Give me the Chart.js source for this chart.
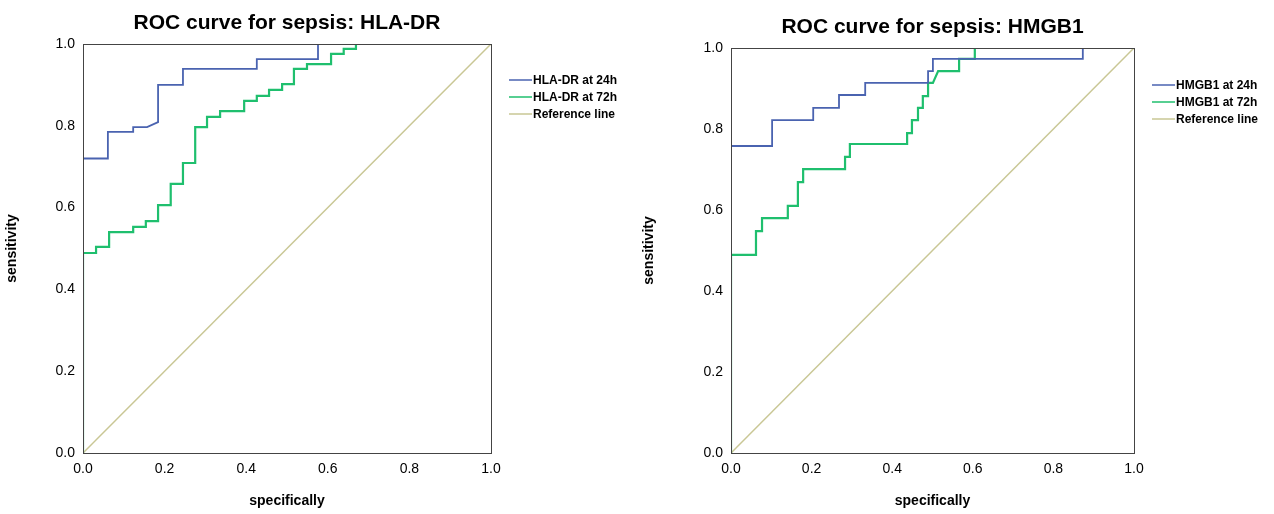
<!DOCTYPE html>
<html>
<head>
<meta charset="utf-8">
<script src="https://cdn.jsdelivr.net/npm/chart.js@4"></script>
<style>
  body{margin:0;background:#fff;width:1274px;height:514px;overflow:hidden;}
  .wrap{position:absolute;top:0;width:637px;height:514px;}
</style>
</head>
<body>
<div class="wrap" style="left:0"><canvas id="c1" width="637" height="514"></canvas></div>
<div class="wrap" style="left:637px"><canvas id="c2" width="637" height="514"></canvas></div>
<script>
// ROC points: [1 - specificity, sensitivity]
var hla24=[[0,0],[0,0.72],[0.061,0.72],[0.061,0.785],[0.123,0.785],[0.123,0.797],[0.157,0.797],[0.184,0.809],[0.184,0.90],[0.245,0.90],[0.245,0.939],[0.426,0.939],[0.426,0.963],[0.576,0.963],[0.576,1],[1,1]];
var hla72=[[0,0],[0,0.489],[0.032,0.489],[0.032,0.504],[0.064,0.504],[0.064,0.54],[0.123,0.54],[0.123,0.553],[0.154,0.553],[0.154,0.567],[0.184,0.567],[0.184,0.606],[0.215,0.606],[0.215,0.658],[0.245,0.658],[0.245,0.709],[0.275,0.709],[0.275,0.797],[0.304,0.797],[0.304,0.822],[0.336,0.822],[0.336,0.836],[0.395,0.836],[0.395,0.861],[0.426,0.861],[0.426,0.873],[0.456,0.873],[0.456,0.888],[0.488,0.888],[0.488,0.902],[0.517,0.902],[0.517,0.939],[0.549,0.939],[0.549,0.951],[0.608,0.951],[0.608,0.976],[0.639,0.976],[0.639,0.988],[0.669,0.988],[0.669,1],[1,1]];
var hmgb24=[[0,0],[0,0.758],[0.102,0.758],[0.102,0.822],[0.204,0.822],[0.204,0.852],[0.268,0.852],[0.268,0.884],[0.333,0.884],[0.333,0.914],[0.489,0.914],[0.489,0.943],[0.501,0.943],[0.501,0.973],[0.873,0.973],[0.873,1],[1,1]];
var hmgb72=[[0,0],[0,0.489],[0.062,0.489],[0.062,0.548],[0.077,0.548],[0.077,0.58],[0.141,0.58],[0.141,0.61],[0.166,0.61],[0.166,0.669],[0.179,0.669],[0.179,0.701],[0.283,0.701],[0.283,0.731],[0.295,0.731],[0.295,0.763],[0.437,0.763],[0.437,0.79],[0.449,0.79],[0.449,0.822],[0.464,0.822],[0.464,0.852],[0.476,0.852],[0.476,0.881],[0.489,0.881],[0.489,0.914],[0.501,0.914],[0.514,0.943],[0.566,0.943],[0.566,0.973],[0.605,0.973],[0.605,1],[1,1]];
var refLine=[[0,0],[1,1]];
var ticks=[0,0.2,0.4,0.6,0.8,1.0];

var BLUE="#4a63b0", GREEN="#1fbf6e", REF="#c9c795";

function pts(a){ return a.map(function(p){return {x:p[0],y:p[1]};}); }

// draws title, frame and legend
var decor={
  id:"decor",
  afterDraw:function(chart){
    var o=chart.options.plugins.decor, ctx=chart.ctx, a=chart.chartArea;
    ctx.save();
    ctx.strokeStyle="#444";ctx.lineWidth=1;
    ctx.strokeRect(a.left+0.5,a.top+0.5,a.right-a.left,a.bottom-a.top);
    ctx.fillStyle="#000";ctx.font="bold 21px Arial, 'Liberation Sans'";
    ctx.textAlign="center";ctx.textBaseline="middle";
    ctx.fillText(o.title,(a.left+a.right)/2,a.top-21);
    ctx.font="bold 12px Arial, 'Liberation Sans'";ctx.textAlign="left";
    var ds=chart.data.datasets;
    for(var i=0;i<ds.length;i++){
      var y=o.legY+i*17;
      ctx.strokeStyle=ds[i].borderColor;ctx.lineWidth=1.5;
      ctx.beginPath();ctx.moveTo(a.right+18,y);ctx.lineTo(a.right+41,y);ctx.stroke();
      ctx.fillText(ds[i].label,a.right+42,y+1);
    }
    ctx.restore();
  }
};

function makeChart(id,title,s24,s72,n24,n72,padL,padR,padT,legY){
  new Chart(document.getElementById(id),{
    type:"scatter",
    data:{datasets:[
      {label:n24,data:pts(s24),showLine:true,borderColor:BLUE,borderWidth:1.8,pointRadius:0,fill:false},
      {label:n72,data:pts(s72),showLine:true,borderColor:GREEN,borderWidth:2.2,pointRadius:0,fill:false},
      {label:"Reference line",data:pts(refLine),showLine:true,borderColor:REF,borderWidth:1.5,pointRadius:0,fill:false}
    ]},
    options:{
      responsive:false,animation:false,
      layout:{padding:{left:0,right:padR,top:padT,bottom:0}},
      plugins:{legend:{display:false},tooltip:{enabled:false},decor:{title:title,legY:legY}},
      scales:{
        x:{type:"linear",min:0,max:1,grid:{display:false,drawTicks:true,tickLength:5,tickColor:"#444"},border:{color:"#444"},
          afterBuildTicks:function(s){s.ticks=ticks.map(function(v){return {value:v};});},
          afterFit:function(s){s.height=61;},
          ticks:{color:"#000",font:{size:14,family:"Arial"},callback:function(v){return v.toFixed(1);}},
          title:{display:true,text:"specifically",color:"#000",font:{size:14,weight:"bold",family:"Arial"},padding:{top:8}}},
        y:{type:"linear",min:0,max:1,grid:{display:false,tickLength:5,tickColor:"#444"},border:{color:"#444"},
          afterBuildTicks:function(s){s.ticks=ticks.map(function(v){return {value:v};});},
          afterFit:function(s){s.width=padL;},
          ticks:{color:"#000",font:{size:14,family:"Arial"},callback:function(v){return v.toFixed(1);}},
          title:{display:true,text:"sensitivity",color:"#000",font:{size:14,weight:"bold",family:"Arial"},padding:{bottom:8}}}
      }
    },
    plugins:[decor]
  });
}

makeChart("c1","ROC curve for sepsis: HLA-DR",hla24,hla72,"HLA-DR at 24h","HLA-DR at 72h",83,146,44,80);
makeChart("c2","ROC curve for sepsis: HMGB1",hmgb24,hmgb72,"HMGB1 at 24h","HMGB1 at 72h",94,140,48,85);
</script>
</body>
</html>
